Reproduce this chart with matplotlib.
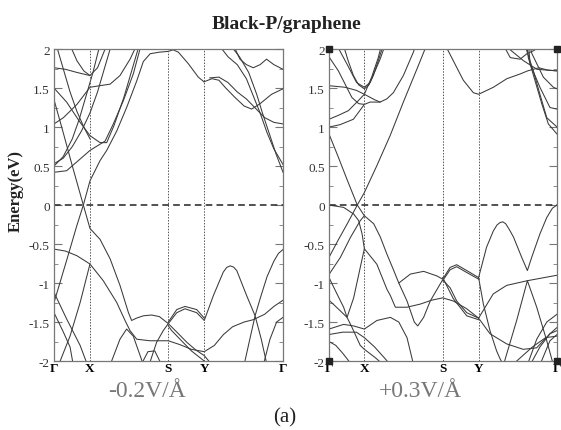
"""
Band structure of black-P/graphene under two electric fields
"""
import matplotlib.pyplot as plt
from matplotlib.ticker import MultipleLocator

# pylint: disable=invalid-name

plt.rcParams['font.family'] = ['Liberation Serif', 'DejaVu Serif']

# high-symmetry points, as a fraction of the k-path
kpts_left = [0.0, 0.157, 0.498, 0.655, 1.0]
kpts_right = [0.0, 0.155, 0.4985, 0.656, 1.0]
kpt_labels = ['Γ', 'X', 'S', 'Y', 'Γ']
yticks = [-2, -1.5, -1, -0.5, 0, 0.5, 1, 1.5, 2]
ytick_labels = ['-2', '-1.5', '-1', '-0.5', '0', '0.5', '1', '1.5', '2']
field_labels = ['-0.2V/Å', '+0.3V/Å']

# ---- -0.2 V/A : bands as (k, E in eV) ----
L01 = ([0.0, 0.055, 0.099, 0.128, 0.157, 0.201, 0.23, 0.274, 0.317, 0.361, 0.39,
        0.42, 0.46, 0.499, 0.52, 0.543, 0.587, 0.63, 0.655],
       [-1.25, -0.71, -0.27, 0.0, 0.31, 0.57, 0.70, 0.95, 1.25, 1.59, 1.84,
        1.94, 1.96, 1.97, 1.99, 1.96, 1.81, 1.64, 1.58])
L02 = ([0.655, 0.69, 0.72, 0.75, 0.79, 0.83, 0.863, 0.9, 0.95, 1.0],
       [1.58, 1.62, 1.6, 1.5, 1.38, 1.27, 1.23, 1.3, 1.42, 1.49])
L03 = ([0.68, 0.72, 0.76, 0.80, 0.84, 0.88, 0.92, 0.96, 1.0],
       [1.63, 1.64, 1.57, 1.45, 1.36, 1.24, 1.12, 1.06, 1.04])
L04 = ([0.72, 0.76, 0.80, 0.84, 0.87, 0.90, 0.93, 0.96, 1.0],
       [2.05, 1.9, 1.8, 1.62, 1.40, 1.18, 0.93, 0.72, 0.52])
L05 = ([0.77, 0.81, 0.85, 0.885, 0.91, 0.943, 0.97, 1.0],
       [2.05, 1.9, 1.7, 1.42, 1.18, 0.89, 0.65, 0.42])
L06 = ([0.783, 0.812, 0.84, 0.87, 0.90, 0.928, 0.96, 1.0],
       [2.05, 1.87, 1.8, 1.76, 1.8, 1.87, 1.8, 1.74])
L07 = ([0.0, 0.055, 0.114, 0.157, 0.201, 0.223, 0.259, 0.303, 0.346, 0.38],
       [0.42, 0.44, 0.59, 0.70, 0.78, 0.82, 1.04, 1.34, 1.68, 2.05])
L08 = ([0.0, 0.055, 0.114, 0.157, 0.201, 0.23, 0.262, 0.305, 0.345, 0.372],
       [1.50, 1.32, 1.06, 0.89, 0.80, 0.80, 1.02, 1.38, 1.78, 2.05])
L09 = ([0.0, 0.04, 0.08, 0.12, 0.157, 0.19, 0.22, 0.25],
       [0.53, 0.6, 0.75, 0.95, 1.18, 1.45, 1.75, 2.05])
L10 = ([0.0, 0.04, 0.08, 0.11, 0.14, 0.17, 0.2],
       [0.50, 0.62, 0.85, 1.1, 1.4, 1.7, 2.05])
L11 = ([0.0, 0.04, 0.08, 0.128, 0.157, 0.201, 0.245, 0.288, 0.325, 0.339, 0.36,
        0.39, 0.426, 0.46, 0.499, 0.536, 0.572, 0.623, 0.656, 0.696, 0.739,
        0.754, 0.769, 0.784, 0.798, 0.841, 0.878, 0.9, 0.93, 0.96, 0.98, 1.0],
       [1.35, 0.93, 0.5, 0.0, -0.30, -0.44, -0.69, -1.03, -1.38, -1.48, -1.45,
        -1.42, -1.41, -1.43, -1.52, -1.38, -1.33, -1.38, -1.48, -1.16, -0.86,
        -0.80, -0.78, -0.795, -0.84, -1.16, -1.42, -1.2, -0.92, -0.72, -0.62,
        -0.57])
L12 = ([0.499, 0.536, 0.572, 0.623, 0.656],
       [-1.50, -1.34, -1.30, -1.34, -1.45])
L13 = ([0.0, 0.05, 0.1, 0.157, 0.215, 0.274, 0.31, 0.332, 0.361, 0.419, 0.499,
        0.55, 0.6, 0.656, 0.7, 0.74, 0.78, 0.83, 0.87, 0.92, 0.96, 1.0],
       [-0.565, -0.59, -0.65, -0.756, -0.97, -1.25, -1.48, -1.61, -1.72, -1.74,
        -1.74, -1.79, -1.85, -1.88, -1.8, -1.66, -1.56, -1.5, -1.47, -1.4, -1.3,
        -1.22])
L14 = ([0.415, 0.448, 0.477, 0.499, 0.54, 0.58, 0.62, 0.656, 0.69],
       [-2.05, -1.76, -1.61, -1.52, -1.64, -1.76, -1.86, -1.93, -2.05])
L15 = ([0.499, 0.514, 0.56, 0.6, 0.656, 0.67],
       [-1.55, -1.61, -1.75, -1.87, -2.0, -2.05])
L16 = ([0.02, 0.07, 0.114, 0.157], [-2.05, -1.68, -1.25, -0.756])
L17 = ([0.0, 0.055, 0.114, 0.146], [-1.12, -1.46, -1.8, -2.05])
L18 = ([0.0, 0.041, 0.07, 0.084], [-1.38, -1.63, -1.82, -2.05])
L19 = ([0.245, 0.288, 0.317, 0.346, 0.376, 0.39],
       [-2.05, -1.72, -1.59, -1.68, -1.93, -2.05])
L20 = ([0.38, 0.41, 0.44, 0.47], [-2.05, -1.88, -1.87, -2.05])
L21 = ([0.83, 0.855, 0.878, 0.905, 0.93], [-2.05, -1.72, -1.42, -1.72, -2.05])
L22 = ([0.914, 0.943, 0.972, 1.0], [-2.05, -1.72, -1.5, -1.44])
L23 = ([0.0, 0.05, 0.1, 0.157, 0.19, 0.23], [1.76, 1.74, 1.70, 1.66, 1.76, 2.05])
L24 = ([0.07, 0.1, 0.13, 0.157], [2.05, 1.85, 1.72, 1.66])
L25 = ([0.0, 0.041, 0.1, 0.157, 0.2, 0.245, 0.288, 0.332, 0.361],
       [1.04, 1.12, 1.29, 1.51, 1.53, 1.55, 1.66, 1.87, 2.05])
L26 = ([0.01, 0.04, 0.07, 0.1, 0.13, 0.157], [2.05, 1.75, 1.45, 1.2, 1.0, 0.85])

# ---- +0.3 V/A ----
R01 = ([0.0, 0.04, 0.08, 0.124, 0.155, 0.209, 0.268, 0.326, 0.385, 0.421, 0.43],
       [-0.67, -0.45, -0.24, 0.0, 0.16, 0.50, 0.89, 1.32, 1.74, 2.0, 2.05])
R02 = ([0.0, 0.04, 0.08, 0.124, 0.155, 0.196, 0.225, 0.254, 0.284, 0.306, 0.357,
        0.415, 0.474, 0.4985, 0.531, 0.56, 0.604, 0.656, 0.691, 0.721, 0.737,
        0.75, 0.762, 0.775, 0.79, 0.809, 0.845, 0.87, 0.889, 0.925, 0.955, 0.98,
        1.0],
       [0.91, 0.62, 0.32, 0.0, -0.137, -0.24, -0.41, -0.63, -0.84, -1.0, -0.885,
        -0.85, -0.91, -0.95, -0.80, -0.765, -0.84, -0.93, -0.54, -0.33, -0.255,
        -0.225, -0.215, -0.24, -0.31, -0.41, -0.67, -0.84, -0.67, -0.37, -0.16,
        -0.04, 0.0])
R03 = ([0.4985, 0.531, 0.56, 0.604, 0.656], [-0.97, -0.83, -0.79, -0.865, -0.95])
R04 = ([0.0, 0.05, 0.094, 0.137, 0.155], [-0.89, -0.67, -0.415, -0.2, -0.137])
R05 = ([0.0, 0.064, 0.108, 0.13, 0.145, 0.155], [0.0, -0.03, -0.115, -0.2, -0.37, -0.56])
R06 = ([0.0, 0.035, 0.064, 0.079, 0.108, 0.137, 0.155, 0.21, 0.254, 0.269, 0.291,
        0.342, 0.4, 0.45, 0.4985, 0.545, 0.604, 0.656, 0.72, 0.779, 0.87, 1.0],
       [-0.93, -1.14, -1.31, -1.44, -1.19, -0.8, -0.56, -0.76, -1.08, -1.16, -1.31,
        -1.31, -1.27, -1.22, -1.19, -1.23, -1.33, -1.45, -1.14, -1.03, -0.97, -0.9])
R07 = ([0.306, 0.342, 0.374, 0.389, 0.415, 0.444, 0.488, 0.4985, 0.531, 0.56,
        0.604, 0.656, 0.706, 0.779, 0.852, 0.911, 0.969, 1.0],
       [-1.0, -1.23, -1.5, -1.55, -1.44, -1.23, -1.01, -0.96, -1.06, -1.23,
        -1.38, -1.45, -1.65, -1.78, -1.85, -1.83, -1.65, -1.57])
R08 = ([0.4985, 0.545, 0.604, 0.656], [-0.93, -1.2, -1.42, -1.47])
R09 = ([0.656, 0.677, 0.706, 0.735, 0.75, 0.765], [-0.93, -1.27, -1.61, -1.87, -1.97, -2.05])
R10 = ([0.765, 0.823, 0.87, 0.911, 0.955, 0.984], [-2.05, -1.48, -0.97, -1.31, -1.74, -2.05])
R11 = ([0.882, 0.925, 0.969, 1.0], [-2.05, -1.82, -1.65, -1.61])
R12 = ([0.925, 0.969, 1.0], [-2.05, -1.74, -1.66])
R13 = ([0.804, 0.892, 0.95, 1.0], [-2.05, -1.82, -1.7, -1.68])
R14 = ([0.87, 0.911, 0.955, 1.0], [-2.05, -1.72, -1.5, -1.4])
R15 = ([0.0, 0.064, 0.108, 0.155, 0.21, 0.269, 0.306, 0.342, 0.371],
       [-1.59, -1.53, -1.55, -1.59, -1.48, -1.44, -1.5, -1.7, -2.05])
R16 = ([0.0, 0.06, 0.12, 0.155, 0.2, 0.24, 0.27], [-1.66, -1.63, -1.63, -1.7, -1.82, -1.95, -2.05])
R17 = ([0.0, 0.04, 0.079, 0.101, 0.137, 0.155, 0.2, 0.24],
       [-1.22, -1.33, -1.44, -1.57, -1.80, -1.85, -1.95, -2.05])
R18 = ([0.0, 0.03, 0.06, 0.1], [-1.75, -1.8, -1.9, -2.05])
R19 = ([0.0, 0.048, 0.107, 0.155, 0.18, 0.224, 0.253, 0.282, 0.326, 0.37, 0.38],
       [1.0, 1.03, 1.1, 1.29, 1.32, 1.32, 1.36, 1.44, 1.66, 1.96, 2.05])
R20 = ([0.0, 0.041, 0.085, 0.129, 0.155, 0.187, 0.216, 0.23],
       [1.1, 1.15, 1.21, 1.34, 1.42, 1.64, 1.89, 2.05])
R21 = ([0.0, 0.07, 0.12, 0.155, 0.2, 0.224], [1.53, 1.51, 1.47, 1.42, 1.35, 1.32])
R22 = ([0.063, 0.085, 0.107, 0.13, 0.155, 0.175, 0.194, 0.215, 0.238],
       [2.05, 1.84, 1.66, 1.54, 1.49, 1.54, 1.66, 1.84, 2.05])
R23 = ([0.034, 0.08, 0.121, 0.155, 0.18, 0.224, 0.246], [2.05, 1.8, 1.57, 1.51, 1.57, 1.87, 2.05])
R24 = ([0.0, 0.041, 0.1, 0.13, 0.155], [1.9, 1.72, 1.38, 1.3, 1.29])
R25 = ([0.51, 0.545, 0.589, 0.633, 0.656, 0.721, 0.78, 0.838, 0.871, 0.92, 0.96, 1.0],
       [2.05, 1.85, 1.6, 1.44, 1.42, 1.51, 1.62, 1.68, 1.72, 1.76, 1.73, 1.72])
R26 = ([0.86, 0.867, 0.896, 0.925, 0.955, 1.0], [2.05, 1.98, 1.72, 1.42, 1.12, 1.0])
R27 = ([0.868, 0.874, 0.904, 0.933, 0.962, 1.0], [2.05, 1.89, 1.59, 1.30, 1.04, 0.91])
R28 = ([0.875, 0.882, 0.925, 0.969, 1.0], [2.05, 1.81, 1.51, 1.25, 1.23])
R29 = ([0.88, 0.89, 0.94, 0.984, 1.0], [2.05, 1.94, 1.64, 1.51, 1.49])
R30 = ([0.765, 0.795, 0.838, 0.868, 0.898, 0.93], [2.05, 1.89, 1.87, 1.94, 1.98, 2.05])
R31 = ([0.77, 0.853, 0.912, 1.0], [2.05, 1.85, 1.74, 1.72])

bands_left = [L01, L02, L03, L04, L05, L06, L07, L08, L09, L10, L11, L12, L13,
              L14, L15, L16, L17, L18, L19, L20, L21, L22, L23, L24, L25, L26]
bands_right = [R01, R02, R03, R04, R05, R06, R07, R08, R09, R10, R11, R12, R13,
               R14, R15, R16, R17, R18, R19, R20, R21, R22, R23, R24, R25, R26,
               R27, R28, R29, R30, R31]


def draw_panel(ax, bands, kpts, corners=False):
    for k, e in bands:
        ax.plot(k, e, color='#3a3a3a', lw=0.75)
    for kp in kpts[1:-1]:
        ax.axvline(kp, color='#555555', lw=0.7, ls=(0, (1.5, 1.5)))
    ax.axhline(0, color='#333333', lw=1.2, ls=(0, (4, 2.5)))
    ax.set_xlim(0, 1)
    ax.set_ylim(-2, 2)
    ax.set_xticks(kpts)
    ax.set_xticklabels(kpt_labels, fontweight='bold', fontsize=9.5)
    ax.set_yticks(yticks)
    ax.set_yticklabels(ytick_labels, fontsize=9.5, color='#333333')
    ax.yaxis.set_minor_locator(MultipleLocator(0.25))
    ax.tick_params(axis='y', which='both', direction='in', left=True,
                   right=True, color='#777777', pad=3)
    ax.tick_params(axis='y', which='major', length=5.5)
    ax.tick_params(axis='y', which='minor', length=3)
    ax.tick_params(axis='x', length=0, pad=1)
    for sp in ax.spines.values():
        sp.set_color('#777777')
        sp.set_linewidth(0.9)
    if corners:
        ax.plot([0, 1, 0, 1], [2, 2, -2, -2], 's', color='#222222', ms=4,
                clip_on=False, zorder=5)


fig = plt.figure(figsize=(5.61, 4.31), dpi=100)
ax1 = fig.add_axes([0.0963, 0.160, 0.4082, 0.7239])
ax2 = fig.add_axes([0.5865, 0.160, 0.4064, 0.7239])
draw_panel(ax1, bands_left, kpts_left)
draw_panel(ax2, bands_right, kpts_right, corners=True)

fig.text(0.51, 0.933, 'Black-P/graphene', ha='center', va='baseline',
         fontsize=14, fontweight='bold', color='#222222')
fig.text(0.028, 0.557, 'Energy(eV)', rotation=90, ha='center', va='center',
         fontsize=12, fontweight='bold', color='#222222')
fig.text(0.262, 0.079, field_labels[0], ha='center', va='baseline',
         fontsize=17, color='#777777')
fig.text(0.749, 0.079, field_labels[1], ha='center', va='baseline',
         fontsize=17, color='#777777')
fig.text(0.508, 0.019, '(a)', ha='center', va='baseline', fontsize=15,
         color='#222222')

fig.savefig('out.png', dpi=100)
